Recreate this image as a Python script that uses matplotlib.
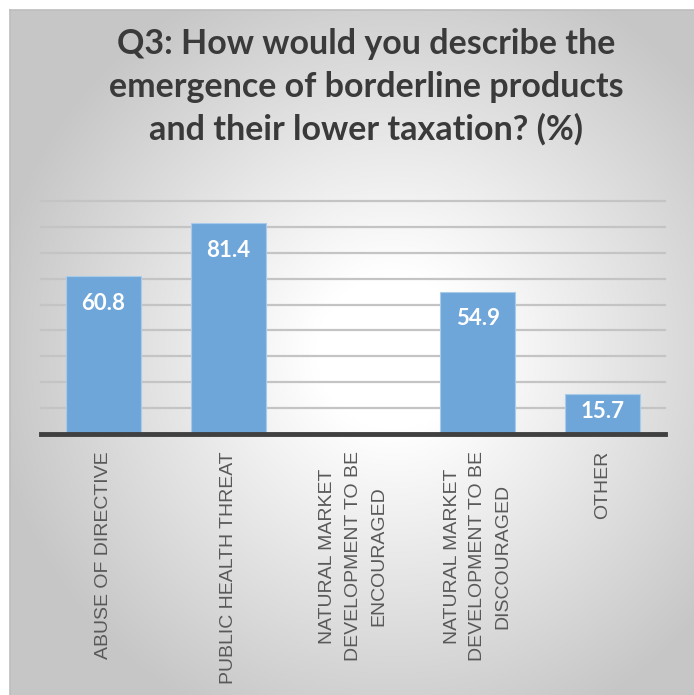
import numpy as np
import matplotlib.pyplot as plt

categories = [
    "ABUSE OF DIRECTIVE",
    "PUBLIC HEALTH THREAT",
    "NATURAL MARKET\nDEVELOPMENT TO BE\nENCOURAGED",
    "NATURAL MARKET\nDEVELOPMENT TO BE\nDISCOURAGED",
    "OTHER",
]
values = [60.8, 81.4, 0.0, 54.9, 15.7]
value_labels = ["60.8", "81.4", "", "54.9", "15.7"]
title = "Q3: How would you describe the\nemergence of borderline products\nand their lower taxation? (%)"

W, H = 694, 695
fig = plt.figure(figsize=(W / 100, H / 100), dpi=100)
fig.patch.set_facecolor("white")

# radial grey-to-white background of the chart area
bg = fig.add_axes([10 / W, 0, 1 - 10 / W, 1 - 10 / H], zorder=0)
yy, xx = np.mgrid[0:1:400j, 0:1:400j]
r = np.sqrt(((xx - 0.56) / 0.95) ** 2 + ((yy - 0.50) / 0.95) ** 2)
shade = np.clip((r - 0.12) / 0.5, 0, 1)
grey = 1.0 - 0.22 * shade
img = np.dstack([grey, grey, grey])
bg.imshow(img, extent=[0, 1, 0, 1], aspect="auto", origin="upper")
bg.set_xlim(0, 1)
bg.set_ylim(0, 1)
bg.set_xticks([])
bg.set_yticks([])
for s in bg.spines.values():
    s.set_color("#bdbdbd")
    s.set_linewidth(1.2)
bg.spines["right"].set_visible(False)
bg.spines["bottom"].set_visible(False)

# plot area
left, right = 41 / W, 665 / W
bottom, top = 1 - 434.3 / H, 1 - 200.7 / H
ax = fig.add_axes([left, bottom, right - left, top - bottom], zorder=1)
ax.patch.set_alpha(0)

x = np.arange(len(values))
ax.bar(x, values, width=0.6, color="#6FA6DA", edgecolor="#A9CBEA",
       linewidth=0.8, zorder=3)

for yv in range(10, 100, 10):
    ax.axhline(yv, color="#c4c4c4", linewidth=1.6, zorder=1, clip_on=False)
ax.axhline(0, color="#404040", linewidth=3.5, zorder=4, clip_on=False)

for xi, v, lab in zip(x, values, value_labels):
    if not lab:
        continue
    ypos = max(v - 10.4, v / 2 + 0.8)
    ax.text(xi, ypos, lab, ha="center", va="center", color="white",
            fontsize=16, fontweight="bold", family="Lato", zorder=5)

ax.set_xlim(-0.5, len(values) - 0.5)
ax.set_ylim(0, 90)
ax.set_yticks([])
ax.set_xticks(x)
ax.set_xticklabels(categories, rotation=90, ha="center", va="top",
                   multialignment="center", fontsize=14, color="#595959",
                   family="Liberation Sans", linespacing=1.65)
ax.tick_params(axis="x", length=0, pad=12)
for s in ax.spines.values():
    s.set_visible(False)

fig.text(366 / W, 1 - 87 / H, title, ha="center", va="center", fontsize=24.5,
         fontweight="bold", family="Lato", color="#3a3a3a", linespacing=1.4)

fig.savefig("out.png", dpi=100)
